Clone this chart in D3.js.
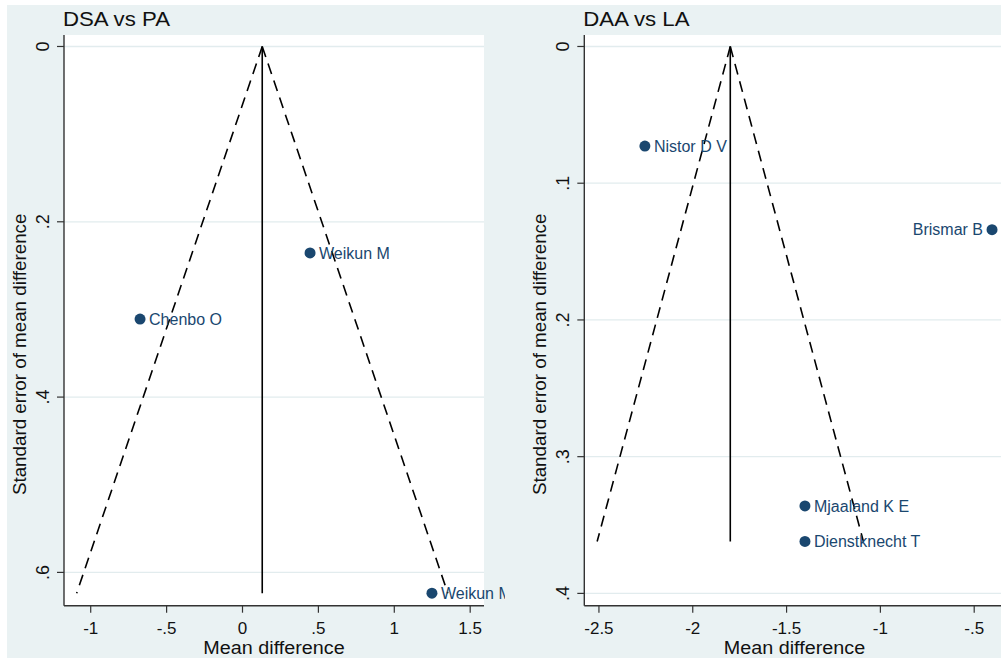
<!DOCTYPE html>
<html>
<head>
<meta charset="utf-8">
<script src="https://cdn.jsdelivr.net/npm/d3@7"></script>
<style>
  body { margin: 0; background: #ffffff; }
  svg { display: block; font-family: "Liberation Sans", Arial, sans-serif; }
</style>
</head>
<body>
<svg id="chart" width="1001" height="658"></svg>
<script>
// DSA vs PA
const leftStudies = ["Weikun M", "Chenbo O", "Weikun M"];
const leftMeanDiff = [0.445, -0.675, 1.248];
const leftStdErr = [0.2355, 0.311, 0.6237];
const leftLabelSide = ["right", "right", "right"];
const leftPooled = 0.13;
const leftXTicks = [-1, -0.5, 0, 0.5, 1, 1.5];
const leftYTicks = [0, 0.2, 0.4, 0.6];

// DAA vs LA
const rightStudies = ["Nistor D V", "Brismar B", "Mjaaland K E", "Dienstknecht T"];
const rightMeanDiff = [-2.255, -0.405, -1.402, -1.402];
const rightStdErr = [0.0728, 0.134, 0.336, 0.362];
const rightLabelSide = ["right", "left", "right", "right"];
const rightPooled = -1.80;
const rightXTicks = [-2.5, -2, -1.5, -1, -0.5];
const rightYTicks = [0, 0.1, 0.2, 0.3, 0.4];

const BG = "#eaf2f3";
const MARKER = "#1a476f";
const AXIS = "#333333";

// stata style numbers: .5, -.5
const fmt = (v) => String(v).replace(/^(-?)0\./, "$1.");

class FunnelPanel {

  constructor(svg, opts) {
    const self = this;
    self._svg = svg;
    self._o = opts;

    self._x = d3.scaleLinear().domain(opts.xDomain).range([opts.left, opts.right]);
    self._y = d3.scaleLinear().domain(opts.yDomain).range([opts.top, opts.bottom]);
  }

  draw() {
    const self = this;
    const o = self._o;

    const g = self._svg.append("g");
    if (o.clip) {
      self._svg.append("clipPath").attr("id", o.clip.id)
        .append("rect")
        .attr("x", o.clip.x0).attr("y", 0)
        .attr("width", o.clip.x1 - o.clip.x0).attr("height", 658);
      g.attr("clip-path", "url(#" + o.clip.id + ")");
    }

    // plot region
    g.append("rect")
      .attr("x", o.left).attr("y", o.top)
      .attr("width", o.right - o.left).attr("height", o.bottom - o.top)
      .attr("fill", "#ffffff");

    g.selectAll(".grid").data(o.yTicks).enter()
      .append("line")
      .classed("grid", true)
      .attr("x1", o.left).attr("x2", o.right)
      .attr("y1", (d) => self._y(d)).attr("y2", (d) => self._y(d))
      .attr("stroke", "#e2ecee")
      .attr("stroke-width", 1.3);

    // funnel: pooled estimate and pseudo 95% limits
    const maxSe = d3.max(o.se);
    const apex = [self._x(o.pooled), self._y(0)];
    [-1, 1].forEach((sgn) => {
      g.append("line")
        .attr("x1", apex[0]).attr("y1", apex[1])
        .attr("x2", self._x(o.pooled + sgn * 1.96 * maxSe))
        .attr("y2", self._y(maxSe))
        .attr("stroke", "#000")
        .attr("stroke-width", 1.6)
        .attr("stroke-dasharray", "11,7");
    });
    g.append("line")
      .attr("x1", apex[0]).attr("y1", apex[1])
      .attr("x2", apex[0]).attr("y2", self._y(maxSe))
      .attr("stroke", "#000")
      .attr("stroke-width", 1.6);

    // axes
    g.append("line")
      .attr("x1", o.left).attr("x2", o.left)
      .attr("y1", o.top).attr("y2", o.bottom)
      .attr("stroke", AXIS).attr("stroke-width", 1.4);
    g.append("line")
      .attr("x1", o.left).attr("x2", o.right)
      .attr("y1", o.bottom).attr("y2", o.bottom)
      .attr("stroke", AXIS).attr("stroke-width", 1.4);

    g.selectAll(".ytick").data(o.yTicks).enter()
      .append("line")
      .attr("x1", o.left - 7).attr("x2", o.left)
      .attr("y1", (d) => self._y(d)).attr("y2", (d) => self._y(d))
      .attr("stroke", AXIS).attr("stroke-width", 1.2);

    g.selectAll(".ylab").data(o.yTicks).enter()
      .append("text")
      .attr("transform", (d) => "translate(" + (o.left - 15) + "," + self._y(d) + ") rotate(-90)")
      .attr("text-anchor", "middle")
      .attr("font-size", 18)
      .attr("fill", "#111")
      .text(fmt);

    g.selectAll(".xtick").data(o.xTicks).enter()
      .append("line")
      .attr("x1", (d) => self._x(d)).attr("x2", (d) => self._x(d))
      .attr("y1", o.bottom).attr("y2", o.bottom + 7)
      .attr("stroke", AXIS).attr("stroke-width", 1.2);

    g.selectAll(".xlab").data(o.xTicks).enter()
      .append("text")
      .attr("x", (d) => self._x(d)).attr("y", 633.5)
      .attr("text-anchor", "middle")
      .attr("font-size", 17)
      .attr("fill", "#111")
      .text(fmt);

    // titles
    g.append("text")
      .attr("transform", "translate(" + (o.left - 1) + ",26) scale(1.14,1)")
      .attr("font-size", 19.5)
      .attr("fill", "#111")
      .text(o.title);

    g.append("text")
      .attr("transform", "translate(" + ((o.left + o.right) / 2) + ",653.5) scale(1.13,1)")
      .attr("text-anchor", "middle")
      .attr("font-size", 17.5)
      .attr("fill", "#111")
      .text("Mean difference");

    g.append("text")
      .attr("transform", "translate(" + (o.left - 38) + "," + ((o.top + o.bottom) / 2 + 34) + ") rotate(-90)")
      .attr("text-anchor", "middle")
      .attr("font-size", 18.8)
      .attr("fill", "#111")
      .text("Standard error of mean difference");

    // studies
    const pts = o.studies.map((name, i) => ({
      "name": name, "md": o.md[i], "se": o.se[i], "side": o.side[i]
    }));

    const pg = g.selectAll(".study").data(pts).enter()
      .append("g")
      .classed("study", true)
      .attr("transform", (d) => "translate(" + self._x(d.md) + "," + self._y(d.se) + ")");

    pg.append("circle")
      .attr("r", 5.5)
      .attr("fill", MARKER);

    pg.append("text")
      .attr("x", (d) => d.side == "left" ? -9 : 9)
      .attr("dy", "0.36em")
      .attr("text-anchor", (d) => d.side == "left" ? "end" : "start")
      .attr("font-size", 16)
      .attr("fill", MARKER)
      .text((d) => d.name);
  }

}

const svg = d3.select("#chart");
svg.append("rect")
  .attr("x", 7).attr("y", 5)
  .attr("width", 1001 - 7).attr("height", 658 - 5)
  .attr("fill", BG);

new FunnelPanel(svg, {
  title: "DSA vs PA",
  studies: leftStudies, md: leftMeanDiff, se: leftStdErr, side: leftLabelSide,
  pooled: leftPooled, xTicks: leftXTicks, yTicks: leftYTicks,
  xDomain: [-1.176, 1.591], yDomain: [-0.0131, 0.638],
  left: 64, right: 484, top: 35, bottom: 605.7,
  clip: {id: "clipLeft", x0: 0, x1: 505}
}).draw();

new FunnelPanel(svg, {
  title: "DAA vs LA",
  studies: rightStudies, md: rightMeanDiff, se: rightStdErr, side: rightLabelSide,
  pooled: rightPooled, xTicks: rightXTicks, yTicks: rightYTicks,
  xDomain: [-2.578, -0.338], yDomain: [-0.0084, 0.409],
  left: 584.3, right: 1004.6, top: 35, bottom: 605.7
}).draw();
</script>
</body>
</html>
